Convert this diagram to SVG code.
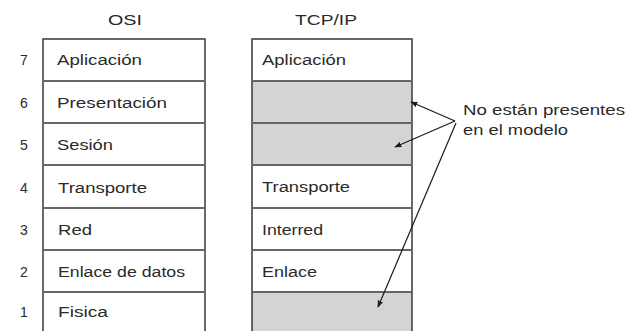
<svg xmlns="http://www.w3.org/2000/svg" width="626" height="331" viewBox="0 0 626 331">
<defs>
<style>
text{font-family:"Liberation Sans",Arial,sans-serif;font-size:14px;fill:#2a2a2a}
.num{text-anchor:middle}
.box{fill:none;stroke:#444;stroke-width:1.6}
.div{stroke:#666;stroke-width:2.2}
.gray{fill:#d4d4d4}
.white{fill:#fff}
.arr{stroke:#1a1a1a;stroke-width:1.2;fill:none;marker-end:url(#ah)}
</style>
<marker id="ah" viewBox="0 0 10 10" refX="9" refY="5" markerWidth="7" markerHeight="7" markerUnits="userSpaceOnUse" orient="auto">
<path d="M0,1 L10,5 L0,9 z" fill="#1a1a1a"/>
</marker>
</defs>
<rect width="626" height="331" fill="#fff"/>
<g id="osi">
<text x="108" y="25" textLength="34" lengthAdjust="spacingAndGlyphs">OSI</text>
<rect class="box" x="43" y="39" width="162" height="300"/>
<line class="div" x1="43" y1="81" x2="205" y2="81"/>
<line class="div" x1="43" y1="123" x2="205" y2="123"/>
<line class="div" x1="43" y1="165" x2="205" y2="165"/>
<line class="div" x1="43" y1="208" x2="205" y2="208"/>
<line class="div" x1="43" y1="250" x2="205" y2="250"/>
<line class="div" x1="43" y1="292" x2="205" y2="292"/>
<text class="num" x="24" y="65">7</text>
<text class="num" x="24" y="108">6</text>
<text class="num" x="24" y="150">5</text>
<text class="num" x="24" y="193">4</text>
<text class="num" x="24" y="235">3</text>
<text class="num" x="24" y="277">2</text>
<text class="num" x="24" y="317">1</text>
<text x="57" y="65" textLength="85" lengthAdjust="spacingAndGlyphs">Aplicación</text>
<text x="57" y="108" textLength="110" lengthAdjust="spacingAndGlyphs">Presentación</text>
<text x="57" y="150" textLength="56" lengthAdjust="spacingAndGlyphs">Sesión</text>
<text x="58" y="193" textLength="89" lengthAdjust="spacingAndGlyphs">Transporte</text>
<text x="58" y="235" textLength="34" lengthAdjust="spacingAndGlyphs">Red</text>
<text x="58" y="277" textLength="127" lengthAdjust="spacingAndGlyphs">Enlace de datos</text>
<text x="58" y="317" textLength="50" lengthAdjust="spacingAndGlyphs">Fisica</text>
</g>
<g id="tcpip">
<text x="295" y="25" textLength="62" lengthAdjust="spacingAndGlyphs">TCP/IP</text>
<rect class="gray" x="252" y="81" width="160" height="84"/>
<rect class="gray" x="252" y="292" width="160" height="45"/>
<rect class="box" x="252" y="39" width="160" height="300"/>
<line class="div" x1="252" y1="81" x2="412" y2="81"/>
<line class="div" x1="252" y1="123" x2="412" y2="123"/>
<line class="div" x1="252" y1="165" x2="412" y2="165"/>
<line class="div" x1="252" y1="208" x2="412" y2="208"/>
<line class="div" x1="252" y1="250" x2="412" y2="250"/>
<line class="div" x1="252" y1="292" x2="412" y2="292"/>
<text x="262" y="65" textLength="84" lengthAdjust="spacingAndGlyphs">Aplicación</text>
<text x="262" y="192" textLength="88" lengthAdjust="spacingAndGlyphs">Transporte</text>
<text x="262" y="235" textLength="61" lengthAdjust="spacingAndGlyphs">Interred</text>
<text x="262" y="277" textLength="55" lengthAdjust="spacingAndGlyphs">Enlace</text>
</g>
<g id="note">
<text x="463" y="115" textLength="162" lengthAdjust="spacingAndGlyphs">No están presentes</text>
<text x="463" y="135" textLength="105" lengthAdjust="spacingAndGlyphs">en el modelo</text>
</g>
<g id="connectors">
<line class="arr" x1="455" y1="121" x2="411" y2="102"/>
<line class="arr" x1="455" y1="121" x2="395" y2="147"/>
<line class="arr" x1="456" y1="123" x2="378" y2="307"/>
</g>
</svg>
